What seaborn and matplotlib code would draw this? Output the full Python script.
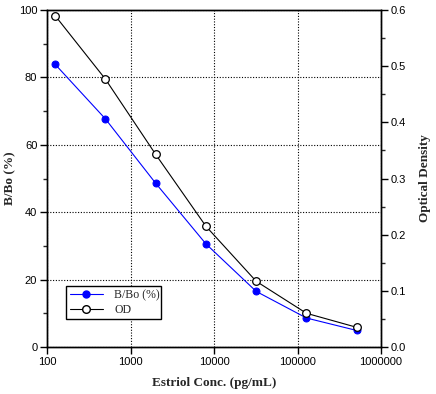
import matplotlib
matplotlib.use("Agg")
import matplotlib.pyplot as plt
import seaborn as sns
import pandas as pd
from matplotlib.ticker import FixedLocator, MultipleLocator, NullLocator, FixedFormatter
from matplotlib.lines import Line2D

conc = [125, 500, 2000, 8000, 32000, 128000, 512000]
bbo = [83.9, 67.7, 48.6, 30.6, 16.5, 8.6, 4.9]
od = [0.590, 0.477, 0.343, 0.215, 0.117, 0.060, 0.035]
x_ticks = [100, 1000, 10000, 100000, 1000000]
x_tick_labels = ["100", "1000", "10000", "100000", "1000000"]

sns.set_style("white")
plt.rcParams['font.family'] = ['Liberation Sans', 'DejaVu Sans']

df = pd.DataFrame({"conc": conc, "bbo": bbo, "od": od})

fig = plt.figure(figsize=(4.36, 3.94), dpi=100)
ax = fig.add_axes([0.1078, 0.1193, 0.7661, 0.8553])
ax2 = ax.twinx()

sns.lineplot(data=df, x="conc", y="bbo", ax=ax, color="#0000ff", lw=0.8,
             marker="o", markersize=5, markerfacecolor="#0000ff",
             markeredgecolor="#0000ff", zorder=3)
sns.lineplot(data=df, x="conc", y="od", ax=ax2, color="black", lw=0.8,
             marker="o", markersize=5.5, markerfacecolor="white",
             markeredgecolor="black", markeredgewidth=0.9, zorder=3)

for a in (ax, ax2):
    a.set_xscale("log")
    a.set_xlim(100, 1000000)
ax.set_ylim(0, 100)
ax2.set_ylim(0, 0.6)

ax.xaxis.set_major_locator(FixedLocator(x_ticks))
ax.xaxis.set_major_formatter(FixedFormatter(x_tick_labels))
ax.xaxis.set_minor_locator(NullLocator())
ax.yaxis.set_major_locator(MultipleLocator(20))
ax.yaxis.set_minor_locator(MultipleLocator(10))
ax2.yaxis.set_major_locator(MultipleLocator(0.1))
ax2.yaxis.set_minor_locator(MultipleLocator(0.05))
ax2.yaxis.set_major_formatter(matplotlib.ticker.FormatStrFormatter("%.1f"))

ax.grid(True, which="major", axis="both", linestyle=(0, (1, 1.5)), color="black", lw=0.8)
ax2.grid(False)

for a in (ax, ax2):
    for s in a.spines.values():
        s.set_color("black")
        s.set_linewidth(1.0)
        s.set_visible(True)

ax.tick_params(axis="both", which="major", direction="out", length=5, width=1,
               labelsize=8, colors="black", pad=2, left=True, bottom=True)
ax.tick_params(axis="y", which="minor", direction="out", length=3, width=1, left=True)
ax2.tick_params(axis="y", which="major", direction="out", length=5, width=1,
                labelsize=8, colors="black", pad=2, right=True)
ax2.tick_params(axis="y", which="minor", direction="out", length=3, width=1, right=True)

lab_font = dict(family=["Liberation Serif", "DejaVu Serif"], weight="bold", size=9.5)
ax.set_xlabel("Estriol Conc. (pg/mL)", **lab_font)
ax.set_ylabel("B/Bo (%)", **lab_font)
ax2.set_ylabel("Optical Density", **lab_font)
ax.xaxis.set_label_coords(0.5, -0.107)
ax.yaxis.set_label_coords(-0.111, 0.5)
ax2.yaxis.set_label_coords(1.132, 0.5)
for lab in (ax.xaxis.label, ax.yaxis.label, ax2.yaxis.label):
    lab.set_va("center")
    lab.set_ha("center")

handles = [
    Line2D([], [], color="#0000ff", lw=0.8, marker="o", markersize=5,
           markerfacecolor="#0000ff", markeredgecolor="#0000ff"),
    Line2D([], [], color="black", lw=0.8, marker="o", markersize=5.5,
           markerfacecolor="white", markeredgecolor="black"),
]
leg = ax2.legend(handles, ["B/Bo (%)", "OD"], loc="lower left",
                 bbox_to_anchor=(0.057, 0.082, 0.284, 0.104), mode="expand",
                 frameon=True, fancybox=False, framealpha=1, edgecolor="black",
                 prop={"family": ["Liberation Serif", "DejaVu Serif"], "size": 8.5},
                 handlelength=2.8, borderpad=0.3, labelspacing=0.2,
                 handletextpad=1.0, borderaxespad=0)
leg.get_frame().set_linewidth(1.0)
leg.set_zorder(5)

fig.savefig("out.png", dpi=100)
